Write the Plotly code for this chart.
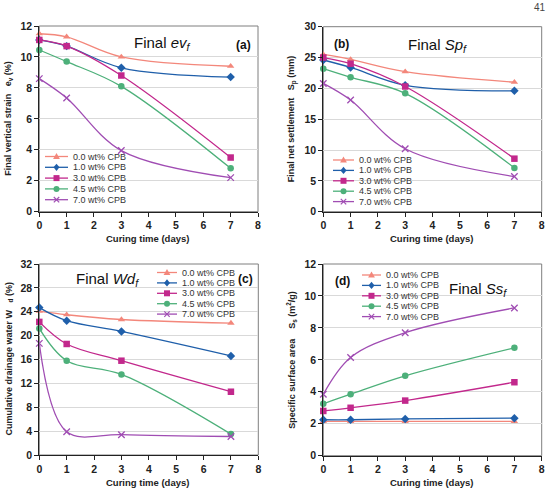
import plotly.graph_objects as go

days = [0, 1, 3, 7]
series_names = ["0.0 wt% CPB", "1.0 wt% CPB", "3.0 wt% CPB", "4.5 wt% CPB", "7.0 wt% CPB"]

strain = {
    "0.0 wt% CPB": [11.5, 11.3, 10.0, 9.4],
    "1.0 wt% CPB": [11.1, 10.7, 9.3, 8.7],
    "3.0 wt% CPB": [11.1, 10.7, 8.8, 3.5],
    "4.5 wt% CPB": [10.45, 9.7, 8.1, 2.8],
    "7.0 wt% CPB": [8.6, 7.35, 3.95, 2.2],
}
settlement = {
    "0.0 wt% CPB": [25.5, 24.7, 22.7, 21.0],
    "1.0 wt% CPB": [24.6, 23.4, 20.5, 19.6],
    "3.0 wt% CPB": [25.0, 24.0, 20.3, 8.6],
    "4.5 wt% CPB": [23.2, 21.8, 19.2, 7.1],
    "7.0 wt% CPB": [20.8, 18.1, 10.2, 5.7],
}
drainage = {
    "0.0 wt% CPB": [24.1, 23.5, 22.7, 22.1],
    "1.0 wt% CPB": [24.7, 22.5, 20.7, 16.6],
    "3.0 wt% CPB": [22.3, 18.6, 15.8, 10.6],
    "4.5 wt% CPB": [21.2, 15.8, 13.5, 3.5],
    "7.0 wt% CPB": [18.7, 3.9, 3.4, 3.1],
}
surface = {
    "0.0 wt% CPB": [2.15, 2.15, 2.15, 2.15],
    "1.0 wt% CPB": [2.25, 2.25, 2.3, 2.35],
    "3.0 wt% CPB": [2.8, 3.0, 3.45, 4.6],
    "4.5 wt% CPB": [3.25, 3.85, 5.0, 6.75],
    "7.0 wt% CPB": [3.85, 6.15, 7.7, 9.25],
}

colors = ["#F3877B", "#1F5FAA", "#C2288C", "#4DB07A", "#A04DB3"]
symbols = ["triangle-up", "diamond", "square", "circle", "x-thin"]

W, H = 550, 491
def X(px): return px / W
def Y(py): return 1 - py / H

FONT = "Liberation Sans, Arial, sans-serif"

panels = [
    (strain, "", (39.3, 258.0, 26.0, 211.7), 12, 2),
    (settlement, "2", (323.3, 541.7, 26.7, 211.7), 30, 5),
    (drainage, "3", (39.3, 258.3, 264.0, 455.0), 32, 4),
    (surface, "4", (323.3, 541.7, 264.0, 455.7), 12, 2),
]

fig = go.Figure()
layout = dict(width=W, height=H, margin=dict(l=0, r=0, t=0, b=0, autoexpand=False),
              paper_bgcolor="white", plot_bgcolor="white", showlegend=False,
              font=dict(family=FONT, color="#222"))
shapes = []
annotations = []

def ann(text, px, py, size, color="#222", xanchor="center", angle=0):
    annotations.append(dict(text=text, x=X(px), y=Y(py), xref="paper", yref="paper",
                            xanchor=xanchor, yanchor="middle", showarrow=False, textangle=angle,
                            font=dict(size=size, family=FONT, color=color)))

for data, suf, (x0, x1, yt, yb), ymax, dt in panels:
    for i, name in enumerate(series_names):
        fig.add_trace(go.Scatter(
            x=days, y=data[name], name=name, mode="lines+markers",
            xaxis="x" + suf, yaxis="y" + suf, cliponaxis=False,
            line=dict(color=colors[i], width=1.3, shape="spline", smoothing=1.0),
            marker=dict(symbol=symbols[i], size=6.5, color=colors[i],
                        line=dict(color=colors[i], width=1.3 if i == 4 else 0)),
        ))
    tf = dict(size=10.5, family=FONT, weight="bold", color="#222")
    layout["xaxis" + suf] = dict(domain=[X(x0), X(x1)], range=[0, 8], dtick=1, tick0=0,
                                 anchor="y" + suf, showgrid=False, zeroline=False,
                                 showline=True, linecolor="#222", linewidth=1,
                                 ticks="outside", ticklen=4, tickcolor="#222", tickfont=tf)
    layout["yaxis" + suf] = dict(domain=[Y(yb), Y(yt)], range=[0, ymax], dtick=dt, tick0=0,
                                 anchor="x" + suf, showgrid=True, gridcolor="#D9D9D9", gridwidth=1,
                                 zeroline=False, showline=True, linecolor="#222", linewidth=1,
                                 ticks="outside", ticklen=4, tickcolor="#222", tickfont=tf)
    shapes.append(dict(type="rect", xref="paper", yref="paper", x0=X(x0), x1=X(x1),
                       y0=Y(yb), y1=Y(yt), line=dict(color="#7F7F7F", width=1), layer="below"))
    ann("<b>Curing time (days)</b>", (x0 + x1) / 2 - 1, yb + 27, 9.5)

ann("<b>Final vertical strain   e<sub>v</sub> (%)</b>", 9, (26 + 211.7) / 2, 9, angle=-90)
ann("<b>Final net settlement   S<sub>p</sub> (mm)</b>", 292, (26.7 + 211.7) / 2, 9, angle=-90)
ann("<b>Cumulative drainage water W   <sub>d</sub> (%)</b>", 9, (264 + 455) / 2, 9, angle=-90)
ann("<b>Specific surface area    S<sub>s</sub> (m<sup>2</sup>/g)</b>", 292, (264 + 455.7) / 2, 9, angle=-90)

ann("Final <i>ev<sub>f</sub></i>", 162, 44, 15, "#111")
ann("<b>(a)</b>", 243, 45, 12, "#111")
ann("<b>(b)</b>", 341, 44, 12, "#111")
ann("Final <i>Sp<sub>f</sub></i>", 437, 45, 15, "#111")
ann("Final <i>Wd<sub>f</sub></i>", 107, 279, 15, "#111")
ann("<b>(c)</b>", 245, 279, 12, "#111")
ann("<b>(d)</b>", 342, 281, 12, "#111")
ann("Final <i>Ss<sub>f</sub></i>", 478, 289, 15, "#111")
ann("41", 548, 7, 10, "#444", xanchor="right")

legends = [
    (45, 68, 71, 156.5, 10.8),
    (333, 354, 357, 160, 10.4),
    (157, 177, 180, 272.5, 10.4),
    (362, 381, 384, 275, 10.4),
]

def marker_shape(sym, cx, cy, color, r=3.0):
    if sym == "circle":
        return dict(type="circle", xref="paper", yref="paper", x0=X(cx - r), x1=X(cx + r),
                    y0=Y(cy + r), y1=Y(cy - r), fillcolor=color, line=dict(width=0))
    if sym == "square":
        return dict(type="rect", xref="paper", yref="paper", x0=X(cx - r), x1=X(cx + r),
                    y0=Y(cy + r), y1=Y(cy - r), fillcolor=color, line=dict(width=0))
    if sym == "diamond":
        pts = [(cx, cy - r - 0.6), (cx + r, cy), (cx, cy + r + 0.6), (cx - r, cy)]
    elif sym == "triangle-up":
        pts = [(cx, cy - r - 0.4), (cx + r + 0.4, cy + r - 0.6), (cx - r - 0.4, cy + r - 0.6)]
    else:
        return None
    path = "M " + " L ".join("%f,%f" % (X(a), Y(b)) for a, b in pts) + " Z"
    return dict(type="path", xref="paper", yref="paper", path=path, fillcolor=color, line=dict(width=0))

for lx0, lx1, tx, y0, dy in legends:
    for i, name in enumerate(series_names):
        yy = y0 + i * dy
        c = colors[i]
        shapes.append(dict(type="line", xref="paper", yref="paper", x0=X(lx0), x1=X(lx1),
                           y0=Y(yy), y1=Y(yy), line=dict(color=c, width=1.3)))
        cx = (lx0 + lx1) / 2
        ms = marker_shape(symbols[i], cx, yy, c)
        if ms is not None:
            shapes.append(ms)
        else:
            r = 2.7
            for a, b in [((cx - r, yy - r), (cx + r, yy + r)), ((cx - r, yy + r), (cx + r, yy - r))]:
                shapes.append(dict(type="line", xref="paper", yref="paper", x0=X(a[0]), y0=Y(a[1]),
                                   x1=X(b[0]), y1=Y(b[1]), line=dict(color=c, width=1.2)))
        ann(name, tx, yy, 9, "#333", xanchor="left")

layout["shapes"] = shapes
layout["annotations"] = annotations
fig.update_layout(**layout)
fig.write_html("out.html")
